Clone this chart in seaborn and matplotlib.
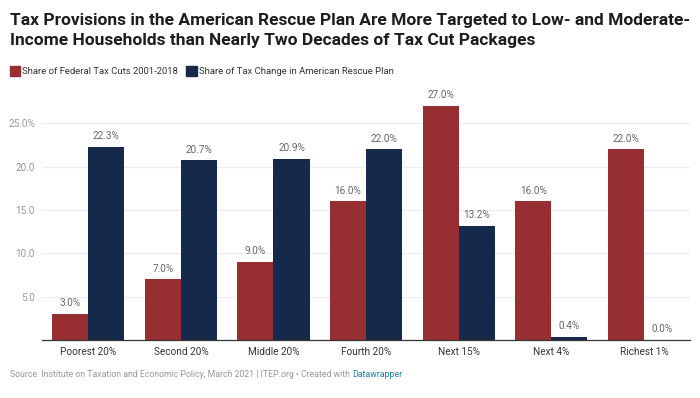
import seaborn as sns
import matplotlib.pyplot as plt
import pandas as pd

# Data
groups = ['Poorest 20%', 'Second 20%', 'Middle 20%', 'Fourth 20%', 'Next 15%', 'Next 4%', 'Richest 1%']
tax_cuts = [3.0, 7.0, 9.0, 16.0, 27.0, 16.0, 22.0]
rescue_plan = [22.3, 20.7, 20.9, 22.0, 13.2, 0.4, 0.0]
series_names = ['Share of Federal Tax Cuts 2001-2018', 'Share of Tax Change in American Rescue Plan']
yticks = [5, 10, 15, 20, 25]
ytick_labels = ['5.0', '10.0', '15.0', '20.0', '25.0%']

red = '#972f32'
navy = '#152a4a'

df = pd.DataFrame({
    'Group': groups * 2,
    'Share': tax_cuts + rescue_plan,
    'Series': [series_names[0]] * len(groups) + [series_names[1]] * len(groups),
})

sns.set_style('white')
plt.rcParams['font.family'] = ['Roboto', 'DejaVu Sans']

fig = plt.figure(figsize=(7, 3.98), dpi=100)
ax = fig.add_axes([0.06, 0.1457, 0.926, 0.621])

sns.barplot(data=df, x='Group', y='Share', hue='Series', order=groups,
            hue_order=series_names, palette=[red, navy], width=0.78,
            linewidth=0, saturation=1, legend=False, ax=ax)

for cont in ax.containers:
    ax.bar_label(cont, fmt='%.1f%%', padding=4, fontsize=7.2, color='#666666')

ax.set_xlim(-0.5, 6.5)
ax.set_ylim(0, 28.5)
ax.set_yticks(yticks)
ax.set_yticklabels(ytick_labels)
ax.grid(axis='y', color='#ececec', linewidth=0.8)
ax.set_axisbelow(True)
for s in ['top', 'right', 'left']:
    ax.spines[s].set_visible(False)
ax.spines['bottom'].set_color('#333333')
ax.spines['bottom'].set_linewidth(0.9)
ax.tick_params(axis='y', length=0, labelsize=7.2, labelcolor='#999999', pad=5)
ax.tick_params(axis='x', length=0, labelsize=7.2, labelcolor='#333333', pad=5)
for lbl in ax.get_yticklabels():
    lbl.set_verticalalignment('center_baseline')
ax.set_xlabel('')
ax.set_ylabel('')

# Title
fig.text(0.014, 0.968, 'Tax Provisions in the American Rescue Plan Are More Targeted to Low- and Moderate-\n'
         'Income Households than Nearly Two Decades of Tax Cut Packages',
         fontsize=12.5, fontweight='bold', color='#1d1d1d', va='top', ha='left', linespacing=1.4)

# Legend
fig.patches.append(plt.Rectangle((0.014, 0.808), 0.015, 0.027, color=red, transform=fig.transFigure))
fig.text(0.032, 0.821, series_names[0], fontsize=6.8, color='#333333', va='center')
fig.patches.append(plt.Rectangle((0.266, 0.808), 0.015, 0.027, color=navy, transform=fig.transFigure))
fig.text(0.284, 0.821, series_names[1], fontsize=6.8, color='#333333', va='center')

# Footer
src = fig.text(0.014, 0.058, 'Source: Institute on Taxation and Economic Policy, March 2021 | ITEP.org • Created with ',
               fontsize=6.3, color='#999999', va='center')
fig.canvas.draw()
bb = src.get_window_extent()
fig.text(bb.x1 / fig.bbox.width, 0.058, 'Datawrapper', fontsize=6.3, color='#1d81a2', va='center')

fig.savefig('out.png', dpi=100)
